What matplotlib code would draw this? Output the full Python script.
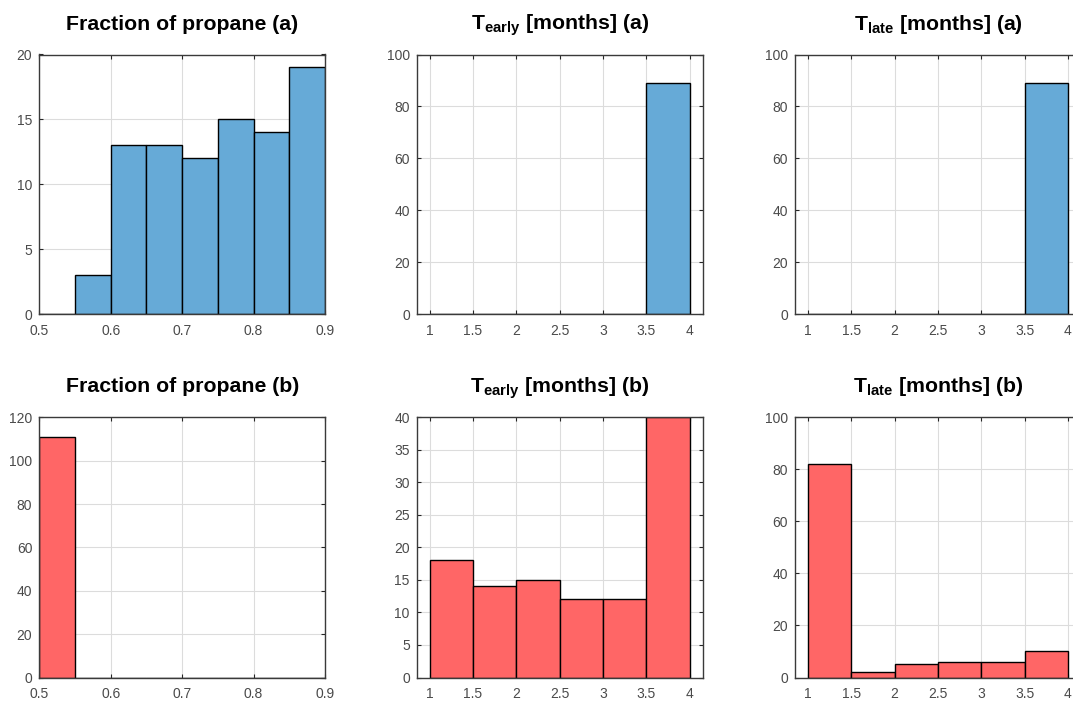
import numpy as np
import matplotlib
matplotlib.use("Agg")
import matplotlib.pyplot as plt

plt.rcParams["font.family"] = ["Liberation Sans", "DejaVu Sans"]
plt.rcParams["mathtext.fontset"] = "custom"
plt.rcParams["mathtext.rm"] = "Liberation Sans"
plt.rcParams["mathtext.bf"] = "Liberation Sans:bold"

# histogram bin edges
propane_edges = [0.50, 0.55, 0.60, 0.65, 0.70, 0.75, 0.80, 0.85, 0.90]
month_edges = [1.0, 1.5, 2.0, 2.5, 3.0, 3.5, 4.0]

# bin counts, case (a)
propane_a = [0, 3, 13, 13, 12, 15, 14, 19]
tearly_a = [0, 0, 0, 0, 0, 89]
tlate_a = [0, 0, 0, 0, 0, 89]

# bin counts, case (b)
propane_b = [111, 0, 0, 0, 0, 0, 0, 0]
tearly_b = [18, 14, 15, 12, 12, 40]
tlate_b = [82, 2, 5, 6, 6, 10]

blue = "#66AAD7"
red = "#FF6666"

month_ticks = [1, 1.5, 2, 2.5, 3, 3.5, 4]
propane_ticks = [0.5, 0.6, 0.7, 0.8, 0.9]

panels = [
    # (row, col, edges, counts, color, title, yticks, xlim, xticks)
    (0, 0, propane_edges, propane_a, blue, "Fraction of propane (a)",
     [0, 5, 10, 15, 20], (0.5, 0.9), propane_ticks),
    (0, 1, month_edges, tearly_a, blue, r"$\mathbf{T_{early}}$ [months] (a)",
     [0, 20, 40, 60, 80, 100], (0.85, 4.15), month_ticks),
    (0, 2, month_edges, tlate_a, blue, r"$\mathbf{T_{late}}$ [months] (a)",
     [0, 20, 40, 60, 80, 100], (0.85, 4.15), month_ticks),
    (1, 0, propane_edges, propane_b, red, "Fraction of propane (b)",
     [0, 20, 40, 60, 80, 100, 120], (0.5, 0.9), propane_ticks),
    (1, 1, month_edges, tearly_b, red, r"$\mathbf{T_{early}}$ [months] (b)",
     [0, 5, 10, 15, 20, 25, 30, 35, 40], (0.85, 4.15), month_ticks),
    (1, 2, month_edges, tlate_b, red, r"$\mathbf{T_{late}}$ [months] (b)",
     [0, 20, 40, 60, 80, 100], (0.85, 4.15), month_ticks),
]

W, H = 1073, 702
fig = plt.figure(figsize=(W / 100, H / 100), dpi=100)

col_left = [39.3, 416.7, 795.0]
col_width = [285.7, 286.0, 286.0]
row_top = [54.5, 417.3]
row_height = [259.8, 260.2]

for row, col, edges, counts, color, title, yticks, xlim, xticks in panels:
    ax = fig.add_axes([col_left[col] / W,
                       1 - (row_top[row] + row_height[row]) / H,
                       col_width[col] / W,
                       row_height[row] / H])
    edges = np.asarray(edges)
    ax.bar(edges[:-1], counts, width=np.diff(edges), align="edge",
           color=color, edgecolor="black", linewidth=1.0, zorder=3)
    ax.set_xlim(*xlim)
    ax.set_ylim(yticks[0], yticks[-1])
    ax.set_xticks(xticks)
    ax.set_xticklabels([f"{t:g}" for t in xticks])
    ax.set_yticks(yticks)
    ax.grid(True, color="#dcdcdc", linewidth=0.8, zorder=0)
    ax.set_axisbelow(True)
    ax.tick_params(direction="in", length=3, width=0.8, top=True, right=True,
                   labelsize=10, labelcolor="#4a4a4a", color="#262626")
    ax.tick_params(axis="x", pad=7)
    ax.tick_params(axis="y", pad=5)
    for sp in ax.spines.values():
        sp.set_color("#3a3a3a")
        sp.set_linewidth(1.0)
        sp.set_zorder(4)
    ax.set_title(title, fontsize=15.3, fontweight="bold", pad=18)

fig.savefig("out.png", dpi=100)
